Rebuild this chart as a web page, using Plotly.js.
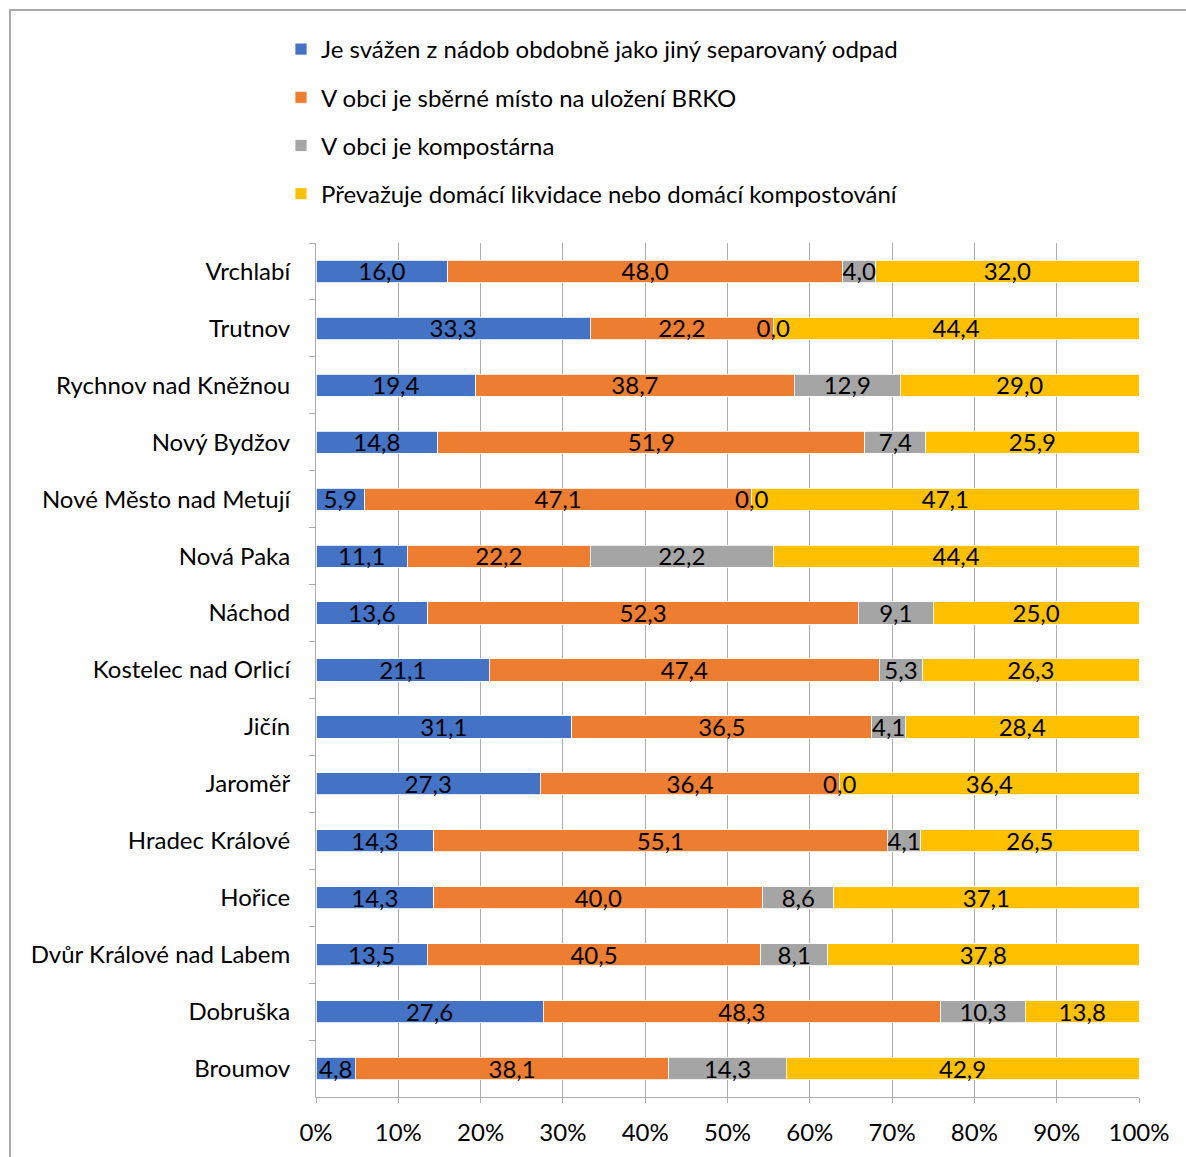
<!DOCTYPE html>
<html>
<head>
<meta charset="utf-8">
<script src="https://cdn.plot.ly/plotly-3.0.1.min.js"></script>
<style>
  html, body { margin: 0; padding: 0; background: #fff; overflow: hidden; }
  #chart { width: 1186px; height: 1157px; }
</style>
</head>
<body>
<div id="chart"></div>
<script>
// Categories (top to bottom as shown)
const categories = [
  "Vrchlabí", "Trutnov", "Rychnov nad Kněžnou", "Nový Bydžov",
  "Nové Město nad Metují", "Nová Paka", "Náchod", "Kostelec nad Orlicí",
  "Jičín", "Jaroměř", "Hradec Králové", "Hořice",
  "Dvůr Králové nad Labem", "Dobruška", "Broumov"
];

const seriesNames = [
  "Je svážen z nádob obdobně jako jiný separovaný odpad",
  "V obci je sběrné místo na uložení BRKO",
  "V obci je kompostárna",
  "Převažuje domácí likvidace nebo domácí kompostování"
];

const svazen     = [16.0, 33.3, 19.4, 14.8, 5.9, 11.1, 13.6, 21.1, 31.1, 27.3, 14.3, 14.3, 13.5, 27.6, 4.8];
const sberneMisto= [48.0, 22.2, 38.7, 51.9, 47.1, 22.2, 52.3, 47.4, 36.5, 36.4, 55.1, 40.0, 40.5, 48.3, 38.1];
const kompostarna= [4.0, 0.0, 12.9, 7.4, 0.0, 22.2, 9.1, 5.3, 4.1, 0.0, 4.1, 8.6, 8.1, 10.3, 14.3];
const domaci     = [32.0, 44.4, 29.0, 25.9, 47.1, 44.4, 25.0, 26.3, 28.4, 36.4, 26.5, 37.1, 37.8, 13.8, 42.9];

const colors = ["#4472C4", "#ED7D31", "#A5A5A5", "#FFC000"];
const FONT = "Lato, 'Open Sans', 'Liberation Sans', sans-serif";
const FS = 24;

const allSeries = [svazen, sberneMisto, kompostarna, domaci];

const traces = [];
allSeries.forEach((vals, i) => {
  traces.push({
    type: "bar",
    orientation: "h",
    name: seriesNames[i],
    legendgroup: "g" + i,
    x: vals,
    y: categories,
    marker: { color: colors[i], line: { color: "#FFFFFF", width: 0.8 } },
    hoverinfo: "name+x"
  });
});

// Data labels centred in each (normalised) segment
const totals = categories.map((_, j) => allSeries.reduce((s, arr) => s + arr[j], 0));
allSeries.forEach((vals, i) => {
  const xs = vals.map((v, j) => {
    let start = 0;
    for (let k = 0; k < i; k++) start += allSeries[k][j];
    return (start + v / 2) / totals[j] * 100;
  });
  traces.push({
    type: "scatter",
    mode: "text",
    x: xs,
    y: categories,
    yaxis: "y2",
    text: vals.map(v => v.toFixed(1).replace(".", ",")),
    textposition: "middle center",
    textfont: { family: FONT, size: FS, color: "#000000" },
    showlegend: false,
    hoverinfo: "skip",
    cliponaxis: false
  });
});

const W = 1186, H = 1157;
const mL = 316, mR = 47, mT = 243, mB = 60;
const pw = W - mL - mR, ph = H - mT - mB;
const catPx = ph / categories.length;
const labelShift = 3 / catPx; // data labels sit slightly low in the bar, as in the original

const layout = {
  width: W,
  height: H,
  margin: { l: mL, r: mR, t: mT, b: mB, pad: 0 },
  paper_bgcolor: "#FFFFFF",
  plot_bgcolor: "#FFFFFF",
  barmode: "stack",
  barnorm: "percent",
  bargap: 0.61,
  font: { family: FONT, size: FS, color: "#000000" },
  showlegend: true,
  legend: {
    orientation: "v",
    traceorder: "grouped",
    tracegroupgap: 14,
    x: (281 - mL) / pw,
    xanchor: "left",
    y: 1 + (mT - 27) / ph,
    yanchor: "top",
    bgcolor: "rgba(0,0,0,0)",
    font: { family: FONT, size: FS, color: "#000000" }
  },
  xaxis: {
    range: [0, 100],
    dtick: 10,
    tick0: 0,
    ticksuffix: "%",
    showgrid: true,
    gridcolor: "#ADADAD",
    gridwidth: 1,
    zeroline: false,
    showline: true,
    linecolor: "#ADADAD",
    linewidth: 1,
    ticks: "outside",
    ticklen: 5,
    tickcolor: "#ADADAD",
    ticklabelstandoff: 9,
    tickfont: { family: FONT, size: FS, color: "#000000" },
    fixedrange: true
  },
  yaxis: {
    type: "category",
    categoryorder: "array",
    categoryarray: categories,
    range: [categories.length - 0.5, -0.5],
    autorange: false,
    showgrid: false,
    zeroline: false,
    showline: true,
    linecolor: "#ADADAD",
    linewidth: 1,
    ticks: "outside",
    tickson: "boundaries",
    ticklen: 6,
    tickcolor: "#ADADAD",
    ticklabelstandoff: 20,
    tickfont: { family: FONT, size: FS, color: "#000000" },
    fixedrange: true
  },
  yaxis2: {
    type: "category",
    categoryorder: "array",
    categoryarray: categories,
    overlaying: "y",
    range: [categories.length - 0.5 - labelShift, -0.5 - labelShift],
    autorange: false,
    visible: false,
    showgrid: false,
    zeroline: false,
    fixedrange: true
  },
  shapes: [{
    type: "rect",
    xref: "paper", yref: "paper",
    x0: (10 - mL) / pw, x1: (W + 20 - mL) / pw,
    y0: -(mB + 20) / ph, y1: 1 + (mT - 10) / ph,
    line: { color: "#ABABAB", width: 2 },
    fillcolor: "rgba(0,0,0,0)"
  }]
};

Plotly.newPlot("chart", traces, layout, { displayModeBar: false, staticPlot: true });
</script>
</body>
</html>
